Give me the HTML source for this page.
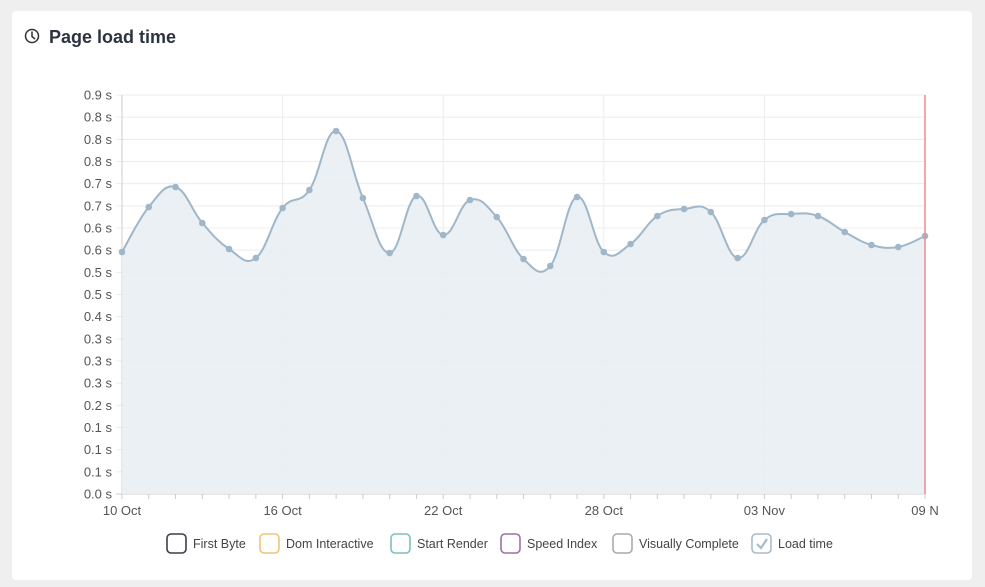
<!DOCTYPE html>
<html><head><meta charset="utf-8"><style>
body{margin:0;background:#efefef;width:985px;height:587px;overflow:hidden;font-family:"Liberation Sans",sans-serif}
.card{position:absolute;left:12px;top:11px;width:960px;height:569px;background:#fff;border-radius:4px}
</style></head><body>
<div class="card"></div>
<svg id="s" width="985" height="587" style="position:absolute;left:0;top:0">
<circle cx="32" cy="36" r="6.5" fill="none" stroke="#333" stroke-width="1.5"/>
<path d="M32 31.5V36.5L35 39" fill="none" stroke="#333" stroke-width="1.5"/>
<text x="49" y="43" font-size="18" font-weight="bold" fill="#2d3340" font-family="Liberation Sans,sans-serif">Page load time</text>
</svg>
<script>
const s=document.getElementById('s');let h='';
const L=122,R=925,T=95,B=494;
const labs=["0.9","0.8","0.8","0.8","0.7","0.7","0.6","0.6","0.5","0.5","0.5","0.4","0.3","0.3","0.3","0.2","0.1","0.1","0.1","0.0"];
const n=18;
for(let i=0;i<=n;i++){const y=T+(B-T)*i/n;
h+=`<line x1="116" x2="${R}" y1="${y}" y2="${y}" stroke="${i==n?'#ccc':'#ececec'}"/>`;}
const lab2=["0.9","0.8","0.8","0.8","0.7","0.7","0.6","0.6","0.5","0.5","0.4","0.3","0.3","0.3","0.2","0.1","0.1","0.1","0.0"];
for(let i=0;i<=n;i++){const y=T+(B-T)*i/n;h+=`<text x="112" y="${y+4.5}" font-size="13" fill="#555" text-anchor="end">${lab2[i]} s</text>`;}
const dx=(R-L)/30;
for(let i=0;i<=30;i++){const x=L+dx*i;h+=`<line x1="${x}" x2="${x}" y1="${B}" y2="${B+5}" stroke="#ccc"/>`;
if(i%6==0)h+=`<line x1="${x}" x2="${x}" y1="${T}" y2="${B}" stroke="#ececec"/>`;}
h+=`<line x1="${L}" x2="${L}" y1="${T}" y2="${B}" stroke="#ccc"/>`;
const xl=["10 Oct","16 Oct","22 Oct","28 Oct","03 Nov","09 N"];
xl.forEach((t,i)=>{const x=L+dx*6*i;h+=`<text x="${x}" y="515" font-size="13" fill="#555" text-anchor="middle">${t}</text>`});
const ys=[252,207,187,223,249,258,208,190,131,198,253,196,235,200,217,259,266,197,252,244,216,209,212,258,220,214,216,232,245,247,236];
const P=ys.map((y,i)=>[L+dx*i,y]);
let d=`M${P[0][0]},${P[0][1]}`;const t=0.2;
for(let i=0;i<P.length-1;i++){const p0=P[Math.max(0,i-1)],p1=P[i],p2=P[i+1],p3=P[Math.min(P.length-1,i+2)];
const c1=[p1[0]+(p2[0]-p0[0])*t,p1[1]+(p2[1]-p0[1])*t],c2=[p2[0]-(p3[0]-p1[0])*t,p2[1]-(p3[1]-p1[1])*t];
d+=`C${c1[0]},${c1[1]} ${c2[0]},${c2[1]} ${p2[0]},${p2[1]}`;}
h+=`<path d="${d}L${R},${B}L${L},${B}Z" fill="#e8eef3" fill-opacity="0.9"/>`;
h+=`<path d="${d}" fill="none" stroke="#9fb7c9" stroke-width="2"/>`;
P.forEach(p=>h+=`<circle cx="${p[0]}" cy="${p[1]}" r="3.3" fill="#9fb7c9"/>`);
h+=`<line x1="${R}" x2="${R}" y1="${T}" y2="${B}" stroke="#f08a8a" stroke-width="1.5"/>`;
const lg=[[166,"First Byte","#3a3f4b"],[259,"Dom Interactive","#f3c27d"],[390,"Start Render","#7cc0be"],[500,"Speed Index","#9a71a8"],[612,"Visually Complete","#aaa"],[751,"Load time","#a7bccb"]];
lg.forEach(([x,t,c],i)=>{h+=`<rect x="${x+1}" y="534" width="19" height="19" rx="4" fill="none" stroke="${c}" stroke-width="1.6"/>`;
if(i==5)h+=`<path d="M${x+6} ${544}l4 4l6-9" fill="none" stroke="#a7bccb" stroke-width="2.2"/>`;
h+=`<text x="${x+27}" y="548" font-size="12.5" fill="#444">${t}</text>`;});
s.insertAdjacentHTML('beforeend',h);
</script>
</body></html>
